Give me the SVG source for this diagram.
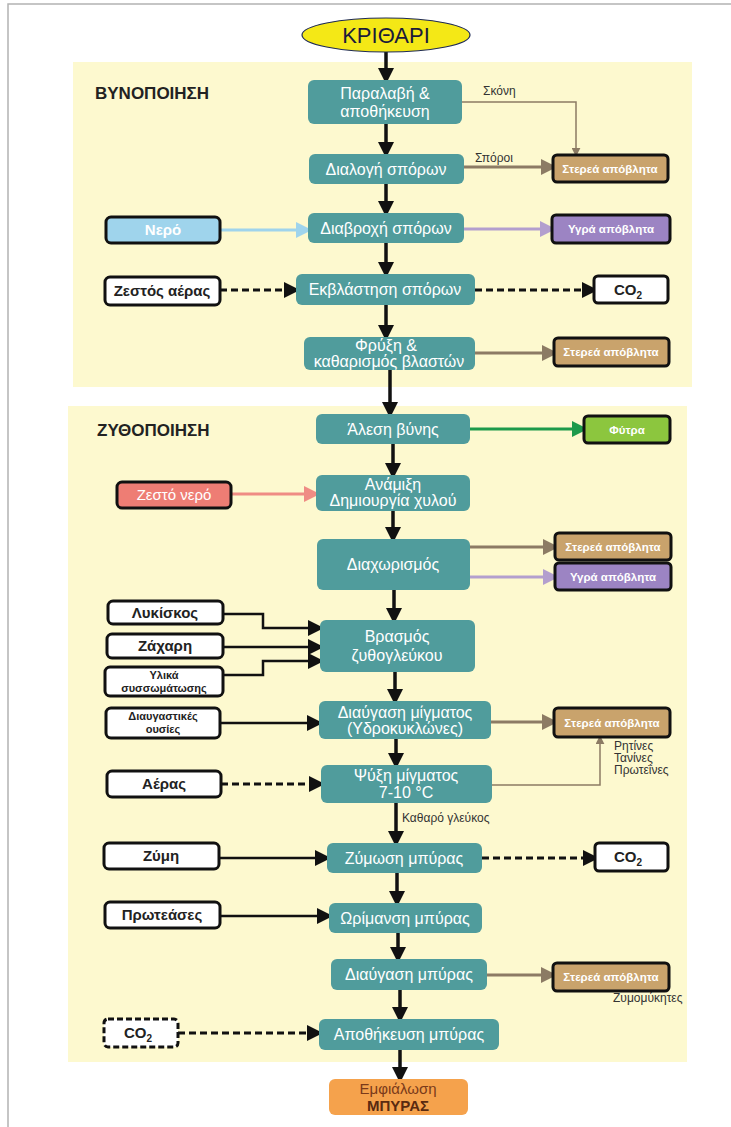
<svg xmlns="http://www.w3.org/2000/svg" width="731" height="1127" viewBox="0 0 731 1127">
<defs>
<style>
.frame{stroke:#b3b3b3;stroke-width:1.5;fill:none}
.panel{fill:#fdf9cf}
.step{fill:#509c9c}
.st{font-family:"Liberation Sans",Arial,sans-serif;font-size:16px;fill:#fff;text-anchor:middle}
.sb{fill:#fff;stroke:#111;stroke-width:3}
.sbt{font-family:"Liberation Sans",Arial,sans-serif;font-size:15px;font-weight:bold;fill:#222;text-anchor:middle}
.sm{font-family:"Liberation Sans",Arial,sans-serif;font-size:11px;font-weight:bold;fill:#222;text-anchor:middle}
.wt{font-family:"Liberation Sans",Arial,sans-serif;font-size:11.5px;font-weight:bold;fill:#fff;text-anchor:middle}
.tan{fill:#c9a36c;stroke:#111;stroke-width:3}
.pur{fill:#9c84c3;stroke:#111;stroke-width:3}
.lbl{font-family:"Liberation Sans",Arial,sans-serif;font-size:12px;fill:#333}
.sec{font-family:"Liberation Sans",Arial,sans-serif;font-size:17px;font-weight:bold;fill:#222}
.main{stroke:#111;stroke-width:3.5;fill:none;marker-end:url(#ah)}
.side{stroke:#111;stroke-width:2.5;fill:none;marker-end:url(#ah)}
.dash{stroke:#111;stroke-width:3;fill:none;stroke-dasharray:7 4;marker-end:url(#ah)}
.brown{stroke:#8c7b64;stroke-width:3;fill:none;marker-end:url(#abr)}
.thin{stroke:#8c7b64;stroke-width:1.5;fill:none;marker-end:url(#athin)}
</style>
<marker id="ah" viewBox="0 0 16 16" markerWidth="16" markerHeight="16" refX="12" refY="8" orient="auto" markerUnits="userSpaceOnUse"><path d="M0,0 L16,8 L0,16 z" fill="#111"/></marker>
<marker id="abr" viewBox="0 0 16 16" markerWidth="16" markerHeight="16" refX="12" refY="8" orient="auto" markerUnits="userSpaceOnUse"><path d="M0,0 L16,8 L0,16 z" fill="#8c7b64"/></marker>
<marker id="ablue" viewBox="0 0 16 16" markerWidth="16" markerHeight="16" refX="12" refY="8" orient="auto" markerUnits="userSpaceOnUse"><path d="M0,0 L16,8 L0,16 z" fill="#9fd4ec"/></marker>
<marker id="apur" viewBox="0 0 16 16" markerWidth="16" markerHeight="16" refX="12" refY="8" orient="auto" markerUnits="userSpaceOnUse"><path d="M0,0 L16,8 L0,16 z" fill="#b39fce"/></marker>
<marker id="apink" viewBox="0 0 16 16" markerWidth="16" markerHeight="16" refX="12" refY="8" orient="auto" markerUnits="userSpaceOnUse"><path d="M0,0 L16,8 L0,16 z" fill="#ef8c84"/></marker>
<marker id="agreen" viewBox="0 0 16 16" markerWidth="16" markerHeight="16" refX="12" refY="8" orient="auto" markerUnits="userSpaceOnUse"><path d="M0,0 L16,8 L0,16 z" fill="#1d9a4b"/></marker>
<marker id="athin" viewBox="0 0 10 10" markerWidth="9" markerHeight="9" refX="8" refY="5" orient="auto" markerUnits="userSpaceOnUse"><path d="M0,0 L10,5 L0,10 z" fill="#8c7b64"/></marker>
</defs>

<rect width="731" height="1127" fill="#fff"/>
<path class="frame" d="M8,1127 V4 H731"/>
<rect class="panel" x="73" y="62" width="619" height="325"/>
<rect class="panel" x="68" y="406" width="619" height="656"/>
<text class="sec" x="95" y="99">ΒΥΝΟΠΟΙΗΣΗ</text>
<text class="sec" x="97" y="436">ΖΥΘΟΠΟΙΗΣΗ</text>

<g id="connectors">
<path class="main" d="M386,52 V80"/>
<path class="main" d="M386,124 V154"/>
<path class="main" d="M386,184 V213"/>
<path class="main" d="M386,243 V274"/>
<path class="main" d="M386,305 V337"/>
<path class="main" d="M390,370 V414"/>
<path class="main" d="M393,444 V475"/>
<path class="main" d="M393,511 V539"/>
<path class="main" d="M394,590 V620"/>
<path class="main" d="M395,672 V701"/>
<path class="main" d="M396,739 V765"/>
<path class="main" d="M396,803 V843"/>
<path class="main" d="M397,873 V903"/>
<path class="main" d="M398,933 V959"/>
<path class="main" d="M400,990 V1019"/>
<path class="main" d="M400,1050 V1079"/>
<path class="thin" d="M462,102 H576 V155"/>
<path class="brown" d="M464,167 H553"/>
<path d="M220,230 H308" stroke="#9fd4ec" stroke-width="3" fill="none" marker-end="url(#ablue)"/>
<path d="M464,229 H552" stroke="#b39fce" stroke-width="3" fill="none" marker-end="url(#apur)"/>
<path class="dash" d="M220,290 H296"/>
<path class="dash" d="M475,290 H594"/>
<path class="brown" d="M475,353 H554"/>
<path d="M466,429 H584" stroke="#1d9a4b" stroke-width="3" fill="none" marker-end="url(#agreen)"/>
<path d="M231,494 H316" stroke="#ef8c84" stroke-width="3" fill="none" marker-end="url(#apink)"/>
<path class="brown" d="M470,547 H555"/>
<path d="M470,577 H555" stroke="#b39fce" stroke-width="3" fill="none" marker-end="url(#apur)"/>
<path class="side" d="M223,614 H263 V628 H320"/>
<path class="side" d="M223,647 H320"/>
<path class="side" d="M223,675 H263 V661 H320"/>
<path class="side" d="M220,723 H319"/>
<path class="brown" d="M491,722 H554"/>
<path class="thin" d="M492,785 H600 V737"/>
<path class="dash" d="M221,784 H321"/>
<path class="side" d="M219,858 H327"/>
<path class="dash" d="M482,858 H595"/>
<path class="side" d="M220,916 H329"/>
<path class="brown" d="M487,975 H553"/>
<path class="dash" d="M178,1033 H319"/>
<text class="lbl" x="483" y="95">Σκόνη</text>
<text class="lbl" x="475" y="162">Σπόροι</text>
<text class="lbl" x="402" y="822">Καθαρό γλεύκος</text>
<text class="lbl" x="614" y="750" font-size="11">Ρητίνες</text>
<text class="lbl" x="614" y="762" font-size="11">Τανίνες</text>
<text class="lbl" x="614" y="774" font-size="11">Πρωτεΐνες</text>
<text class="lbl" x="613" y="1002" font-size="11">Ζυμομύκητες</text>
</g>

<g id="krithari">
<ellipse cx="386" cy="35" rx="84" ry="17" fill="#f4e816" stroke="#1e2a55" stroke-width="1.2"/>
<text x="386" y="43" font-family="'Liberation Sans',Arial,sans-serif" font-size="22" fill="#1b1b3a" text-anchor="middle">ΚΡΙΘΑΡΙ</text>
</g>

<g id="paralavi"><rect class="step" x="308" y="80" width="154" height="44" rx="6"/><text class="st" x="385" y="99">Παραλαβή &amp;</text><text class="st" x="385" y="117">αποθήκευση</text></g>
<g id="dialogi"><rect class="step" x="309" y="154" width="155" height="30" rx="6"/><text class="st" x="386" y="175">Διαλογή σπόρων</text></g>
<g id="diavrochi"><rect class="step" x="308" y="213" width="156" height="30" rx="6"/><text class="st" x="386" y="234">Διαβροχή σπόρων</text></g>
<g id="ekvlastisi"><rect class="step" x="296" y="274" width="179" height="31" rx="6"/><text class="st" x="385" y="295">Εκβλάστηση σπόρων</text></g>
<g id="fryxi"><rect class="step" x="304" y="337" width="171" height="33" rx="6"/><text class="st" x="386" y="351">Φρύξη &amp;</text><text class="st" x="389" y="367">καθαρισμός βλαστών</text></g>

<g id="nero"><rect x="106" y="217" width="114" height="26" rx="5" fill="#9fd4ec" stroke="#111" stroke-width="3"/><text class="sbt" x="163" y="235" style="fill:#fff">Νερό</text></g>
<g id="zestos-aeras"><rect class="sb" x="105" y="277" width="115" height="28" rx="5"/><text class="sbt" x="162" y="296">Ζεστός αέρας</text></g>
<g id="sterea1"><rect class="tan" x="553" y="155" width="115" height="27" rx="4"/><text class="wt" x="610" y="173">Στερεά απόβλητα</text></g>
<g id="ygra1"><rect class="pur" x="552" y="215" width="118" height="28" rx="4"/><text class="wt" x="611" y="233">Υγρά απόβλητα</text></g>
<g id="co2-1"><rect class="sb" x="594" y="276" width="74" height="27" rx="4"/><text class="sbt" x="628" y="295">CO<tspan font-size="10" dy="4">2</tspan></text></g>
<g id="sterea2"><rect class="tan" x="554" y="338" width="115" height="28" rx="4"/><text class="wt" x="611" y="356">Στερεά απόβλητα</text></g>

<g id="alesi"><rect class="step" x="316" y="414" width="154" height="30" rx="6"/><text class="st" x="393" y="435">Άλεση βύνης</text></g>
<g id="anamixi"><rect class="step" x="316" y="475" width="154" height="36" rx="6"/><text class="st" x="393" y="490">Ανάμιξη</text><text class="st" x="393" y="506">Δημιουργία χυλού</text></g>
<g id="diachorismos"><rect class="step" x="317" y="539" width="153" height="51" rx="6"/><text class="st" x="393" y="570">Διαχωρισμός</text></g>
<g id="vrasmos"><rect class="step" x="320" y="620" width="155" height="52" rx="6"/><text class="st" x="397" y="642">Βρασμός</text><text class="st" x="397" y="661">ζυθογλεύκου</text></g>
<g id="diavgasi-migmatos"><rect class="step" x="319" y="701" width="172" height="38" rx="6"/><text class="st" x="405" y="718">Διαύγαση μίγματος</text><text class="st" x="405" y="734" font-size="13">(Υδροκυκλώνες)</text></g>
<g id="psyxi"><rect class="step" x="321" y="765" width="171" height="38" rx="6"/><text class="st" x="406" y="781">Ψύξη μίγματος</text><text class="st" x="406" y="798">7-10 °C</text></g>
<g id="zymosi"><rect class="step" x="327" y="843" width="155" height="30" rx="6"/><text class="st" x="404" y="864">Ζύμωση μπύρας</text></g>
<g id="orimansi"><rect class="step" x="329" y="903" width="153" height="30" rx="6"/><text class="st" x="405" y="924">Ωρίμανση μπύρας</text></g>
<g id="diavgasi-byras"><rect class="step" x="331" y="959" width="156" height="31" rx="6"/><text class="st" x="409" y="980">Διαύγαση μπύρας</text></g>
<g id="apothikefsi"><rect class="step" x="319" y="1019" width="180" height="31" rx="6"/><text class="st" x="409" y="1040">Αποθήκευση μπύρας</text></g>
<g id="emfialosi"><rect x="329" y="1079" width="139" height="36" rx="6" fill="#f5a24c"/><text x="398" y="1094" font-family="'Liberation Sans',Arial,sans-serif" font-size="15" fill="#7a3a1a" text-anchor="middle">Εμφιάλωση</text><text x="398" y="1111" font-family="'Liberation Sans',Arial,sans-serif" font-size="15" font-weight="bold" fill="#5a2a10" text-anchor="middle">ΜΠΥΡΑΣ</text></g>

<g id="fytra"><rect x="584" y="416" width="86" height="27" rx="4" fill="#8cc63e" stroke="#111" stroke-width="3"/><text class="wt" x="627" y="434">Φύτρα</text></g>
<g id="zesto-nero"><rect x="117" y="482" width="114" height="26" rx="5" fill="#ee7d74" stroke="#111" stroke-width="3"/><text class="sbt" x="174" y="500" style="fill:#fff;font-weight:normal">Ζεστό νερό</text></g>
<g id="sterea3"><rect class="tan" x="555" y="533" width="116" height="27" rx="4"/><text class="wt" x="613" y="551">Στερεά απόβλητα</text></g>
<g id="ygra2"><rect class="pur" x="555" y="563" width="116" height="27" rx="4"/><text class="wt" x="613" y="581">Υγρά απόβλητα</text></g>
<g id="lykiskos"><rect class="sb" x="108" y="601" width="115" height="23" rx="5"/><text class="sbt" x="165" y="618">Λυκίσκος</text></g>
<g id="zachari"><rect class="sb" x="107" y="634" width="116" height="24" rx="5"/><text class="sbt" x="165" y="651">Ζάχαρη</text></g>
<g id="ylika"><rect class="sb" x="105" y="667" width="118" height="29" rx="5"/><text class="sm" x="164" y="679">Υλικά</text><text class="sm" x="164" y="692">συσσωμάτωσης</text></g>
<g id="diavgastikes"><rect class="sb" x="106" y="708" width="114" height="30" rx="5"/><text class="sm" x="163" y="720">Διαυγαστικές</text><text class="sm" x="163" y="733">ουσίες</text></g>
<g id="sterea4"><rect class="tan" x="554" y="708" width="116" height="29" rx="4"/><text class="wt" x="612" y="727">Στερεά απόβλητα</text></g>
<g id="aeras"><rect class="sb" x="107" y="771" width="114" height="26" rx="5"/><text class="sbt" x="164" y="789">Αέρας</text></g>
<g id="zymi"><rect class="sb" x="104" y="843" width="115" height="26" rx="5"/><text class="sbt" x="161" y="861">Ζύμη</text></g>
<g id="co2-2"><rect class="sb" x="595" y="843" width="73" height="28" rx="4"/><text class="sbt" x="628" y="862">CO<tspan font-size="10" dy="4">2</tspan></text></g>
<g id="proteases"><rect class="sb" x="105" y="902" width="115" height="26" rx="5"/><text class="sbt" x="162" y="920">Πρωτεάσες</text></g>
<g id="sterea5"><rect class="tan" x="553" y="963" width="116" height="28" rx="4"/><text class="wt" x="611" y="981">Στερεά απόβλητα</text></g>
<g id="co2-3"><rect x="104" y="1019" width="74" height="28" rx="4" fill="#fff" stroke="#111" stroke-width="3" stroke-dasharray="6 3"/><text class="sbt" x="138" y="1038">CO<tspan font-size="10" dy="4">2</tspan></text></g>
</svg>
